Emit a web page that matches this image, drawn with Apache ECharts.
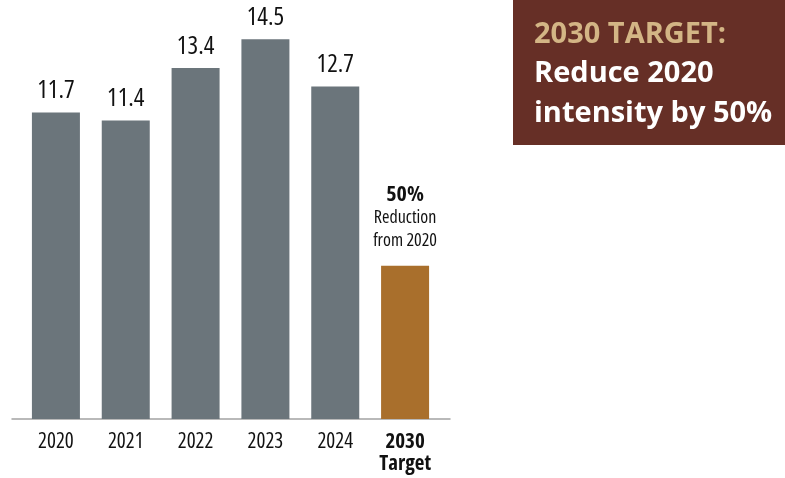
<!DOCTYPE html>
<html><head><meta charset="utf-8">
<script src="https://cdn.jsdelivr.net/npm/echarts@6/dist/echarts.min.js"></script>
<style>html,body{margin:0;padding:0;background:#fff}#c{width:785px;height:478px}</style>
</head><body><div id="c"></div>
<script>
const categories = ['2020', '2021', '2022', '2023', '2024', '2030\nTarget'];
const actualValues = [11.7, 11.4, 13.4, 14.5, 12.7];
const targetValue = 5.85;
const targetNote = ['50%', 'Reduction', 'from 2020'];
const boxTitle = '2030 TARGET:';
const boxLines = ['Reduce 2020', 'intensity by 50%'];

const FAM = '"Open Sans", "Roboto Condensed", sans-serif';
const COND = 'condensed';
const GRAY = '#6b757b', BRONZE = '#a96f2c';

const data = actualValues.map(v => ({
  value: v, itemStyle: { color: GRAY },
  label: { show: true, position: 'top', distance: 9, formatter: '{c}', color: '#111',
    fontFamily: FAM, fontStyle: COND, fontSize: 25, lineHeight: 25 }
}));
data.push({
  value: targetValue, itemStyle: { color: BRONZE },
  label: {
    show: true, position: 'top', distance: 13,
    formatter: '{b|' + targetNote[0] + '}\n{n|' + targetNote[1] + '}\n{n|' + targetNote[2] + '}',
    rich: {
      b: { fontFamily: FAM, fontStyle: COND, fontWeight: 'bold', fontSize: 22, color: '#111', lineHeight: 25 },
      n: { fontFamily: FAM, fontStyle: COND, fontSize: 18, color: '#111', lineHeight: 23 }
    }
  }
});

const chart = echarts.init(document.getElementById('c'), null, { renderer: 'canvas' });
chart.setOption({
  animation: false,
  grid: [
    { left: 21, width: 419, top: 0, bottom: 59 },
    { left: 12, width: 438, top: 0, bottom: 59 }
  ],
  xAxis: [
    {
      type: 'category', data: categories, gridIndex: 0,
      axisLine: { show: false }, axisTick: { show: false },
      axisLabel: {
        interval: 0, margin: 12, color: '#111', fontFamily: FAM, fontStyle: COND, fontSize: 21, lineHeight: 22,
        formatter: (v, i) => i === categories.length - 1 ? '{t|' + v.split('\n').join('}\n{t|') + '}' : v,
        rich: { t: { fontFamily: FAM, fontStyle: COND, fontSize: 21, fontWeight: 'bold', color: '#111', lineHeight: 22 } }
      }
    },
    {
      type: 'value', gridIndex: 1, min: 0, max: 1,
      axisLine: { show: true, onZero: false, lineStyle: { color: '#a3a3a3', width: 1.5 } },
      axisTick: { show: false }, axisLabel: { show: false }, splitLine: { show: false }
    }
  ],
  yAxis: [
    { type: 'value', gridIndex: 0, min: 0, max: 16, show: false, splitLine: { show: false } },
    { type: 'value', gridIndex: 1, min: 0, max: 16, show: false, splitLine: { show: false } }
  ],
  series: [{
    type: 'bar', xAxisIndex: 0, yAxisIndex: 0, barWidth: 48, data: data
  }],
  graphic: [
    { type: 'rect', left: 513, top: 0, shape: { width: 272, height: 145 }, style: { fill: '#662f26' } },
    { type: 'text', left: 534, top: 20, style: { text: boxTitle, fill: '#d3b585', font: 'bold 29px "Open Sans", sans-serif' } },
    { type: 'text', left: 534, top: 59, style: { text: boxLines[0], fill: '#ffffff', font: 'bold 29px "Open Sans", sans-serif' } },
    { type: 'text', left: 534, top: 99, style: { text: boxLines[1], fill: '#ffffff', font: 'bold 29px "Open Sans", sans-serif' } }
  ]
});
</script></body></html>
